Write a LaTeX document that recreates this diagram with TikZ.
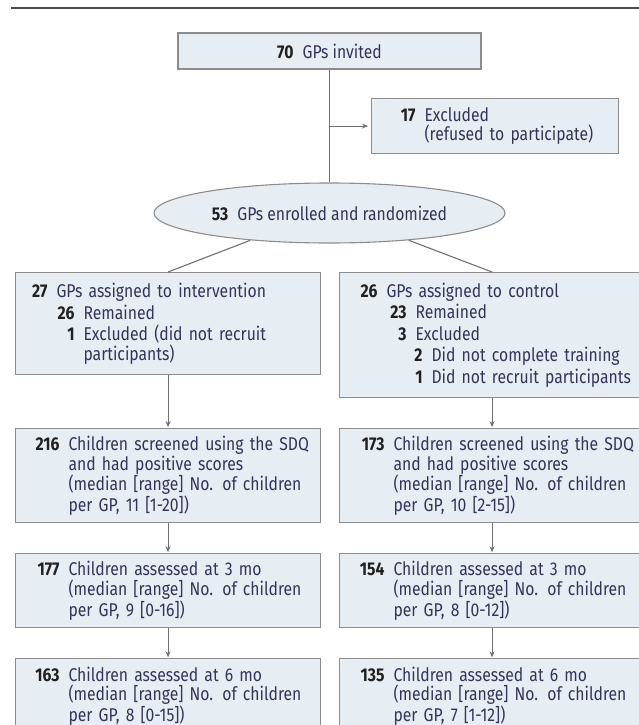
\documentclass[tikz,border=0pt]{standalone}
\usepackage{fontspec}
\setmainfont[FakeStretch=0.85]{Fira Sans}
\usetikzlibrary{arrows.meta,positioning,shapes.geometric}
\definecolor{cfBox}{HTML}{E7EEF3}
\definecolor{cfEdge}{HTML}{8C8C8C}
\definecolor{cfLine}{HTML}{707070}
\definecolor{cfText}{HTML}{36335A}
\definecolor{cfNum}{HTML}{202020}
\definecolor{cfRule}{HTML}{4A4A4A}
\hyphenpenalty=10000
\tikzset{
  >={Stealth[length=6pt,width=5pt]},
  box/.style={draw=cfEdge, fill=cfBox, line width=1.1pt, inner sep=0pt,
              text width=#1, align=left, text=cfText,
              font=\fontsize{18.5pt}{19.5pt}\selectfont},
  box/.default=305pt,
  hbox/.style={draw=cfEdge, fill=cfBox, line width=1.1pt, inner sep=0pt,
              align=center, text=cfText,
              font=\fontsize{18.5pt}{19.5pt}\selectfont},
  oval/.style={ellipse, draw=cfEdge, fill=cfBox, line width=1.1pt, inner sep=0pt,
              text=cfText, font=\fontsize{18.5pt}{19.5pt}\selectfont},
  link/.style={draw=cfLine, line width=1.1pt},
  flow/.style={->, draw=cfLine, line width=1.1pt, shorten >=1pt},
  toprule/.style={draw=cfRule, line width=2pt},
}
\newcommand{\gpn}[2]{\makebox[#1][r]{\textcolor{cfNum}{\bfseries #2}}\hspace{9pt}}
\newcommand{\ind}[1]{\makebox[#1]{}}

\begin{document}
\begin{tikzpicture}[x=1pt,y=1pt]
  \useasboundingbox (0,0) rectangle (638,-725);
  \draw[toprule] (11,-8.5) -- (645,-8.5);
  % enrolment
  \node[hbox,minimum width=303pt,minimum height=36pt] (inv) at (329.5,-51)
    {\textcolor{cfNum}{\bfseries 70}\hspace{9pt}GPs invited};
  \node[box=247pt,minimum height=55pt,anchor=north west] (excl) at (371,-98)
    {\gpn{44pt}{17}Excluded\\
     \ind{53pt}(refused to participate)};
  \node[oval,minimum width=351pt,minimum height=60pt] (enr) at (329.5,-213)
    {\textcolor{cfNum}{\bfseries 53}\hspace{9pt}GPs enrolled and randomized};
  \draw[link] (inv) -- (enr);
  \draw[flow,shorten >=3pt] (inv.south |- excl.west) -- (excl.west);
  % allocation
  \node[box,minimum height=102pt,anchor=north west] (int1) at (15,-272)
    {\gpn{32pt}{27}GPs assigned to intervention\\[2pt]
     \gpn{59pt}{26}Remained\\[2pt]
     \gpn{59pt}{1}Excluded (did not recruit\\
     \ind{68pt}participants)};
  \node[box,minimum height=125pt,anchor=north west] (ctl1) at (339,-272)
    {\gpn{38pt}{26}GPs assigned to control\\[2pt]
     \gpn{67pt}{23}Remained\\[2pt]
     \gpn{67pt}{3}Excluded\\[2pt]
     \gpn{83pt}{2}Did not complete training\\[2pt]
     \gpn{83pt}{1}Did not recruit participants};
  \draw[link] (enr.199) -- (int1.north);
  \draw[link] (enr.-19) -- (ctl1.north);
  % screening and follow-up
  \node[box,minimum height=94pt,below=30pt of ctl1] (ctl2)
    {\gpn{45pt}{173}Children screened using the SDQ\\
     \ind{54pt}and had positive scores\\
     \ind{54pt}(median [range] No. of children\\
     \ind{54pt}per GP, 10 [2-15])};
  \node[box,minimum height=94pt,anchor=north] (int2) at (int1.south |- ctl2.north)
    {\gpn{44pt}{216}Children screened using the SDQ\\
     \ind{53pt}and had positive scores\\
     \ind{53pt}(median [range] No. of children\\
     \ind{53pt}per GP, 11 [1-20])};
  \node[box,minimum height=74pt,below=30pt of int2] (int3)
    {\gpn{44pt}{177}Children assessed at 3 mo\\
     \ind{53pt}(median [range] No. of children\\
     \ind{53pt}per GP, 9 [0-16])};
  \node[box,minimum height=74pt,below=30pt of ctl2] (ctl3)
    {\gpn{45pt}{154}Children assessed at 3 mo\\
     \ind{54pt}(median [range] No. of children\\
     \ind{54pt}per GP, 8 [0-12])};
  \node[box,minimum height=74pt,below=30pt of int3] (int4)
    {\gpn{44pt}{163}Children assessed at 6 mo\\
     \ind{53pt}(median [range] No. of children\\
     \ind{53pt}per GP, 8 [0-15])};
  \node[box,minimum height=74pt,below=30pt of ctl3] (ctl4)
    {\gpn{45pt}{135}Children assessed at 6 mo\\
     \ind{54pt}(median [range] No. of children\\
     \ind{54pt}per GP, 7 [1-12])};
  \foreach \a/\b in {int1/int2,int2/int3,int3/int4,ctl1/ctl2,ctl2/ctl3,ctl3/ctl4}
    {\draw[flow] (\a) -- (\b);}
\end{tikzpicture}
\end{document}
